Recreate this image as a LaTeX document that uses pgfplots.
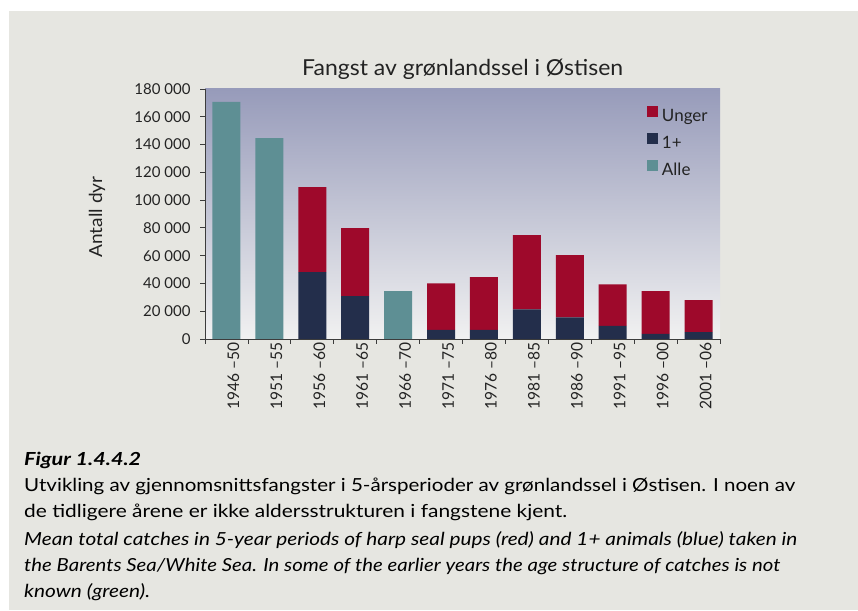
\documentclass[border=0pt]{standalone}
\usepackage{pgfplots}
\pgfplotsset{compat=1.18}
\usepackage{fontspec}
\setmainfont{Lato}
\usepackage{graphicx}
\definecolor{panel}{RGB}{230,230,225}
\definecolor{txt}{RGB}{35,35,35}
\definecolor{ungerred}{RGB}{158,9,43}
\definecolor{plusnavy}{RGB}{35,46,75}
\definecolor{alleteal}{RGB}{94,143,148}
\definecolor{bgtop}{RGB}{151,155,186}
\definecolor{bgbot}{RGB}{241,241,241}
\definecolor{axisgray}{RGB}{60,60,60}
\newcommand\fitw[2]{\resizebox{#1}{\height}{#2}}
\newcommand\xl[1]{\fitw{67pt}{\fontsize{16}{16}\selectfont #1}}
\begin{document}
\begin{tikzpicture}[x=1pt,y=1pt]
\fill[white] (0,0) rectangle (858,610);
\fill[panel] (9,0) rectangle (858,599);
\begin{axis}[
  at={(205pt,271pt)}, anchor=south west,
  scale only axis, width=515pt, height=250pt,
  ybar stacked, bar width=28pt,
  xmin=-0.5, xmax=11.5, ymin=0, ymax=180000,
  scaled x ticks=false, scaled y ticks=false,
  axis x line*=bottom, axis y line*=left,
  axis line style={draw=axisgray, line width=0.8pt},
  axis background/.style={top color=bgtop, bottom color=bgbot},
  tick align=outside, major tick length=5pt,
  tick style={draw=axisgray, line width=0.8pt},
  xtick={-0.5,0.5,...,11.5}, xticklabels={,,,,,,,,,,,,,},
  extra x ticks={0,1,2,3,4,5,6,7,8,9,10,11},
  extra x tick labels={\xl{1946 –50},\xl{1951 –55},\xl{1956 –60},\xl{1961 –65},\xl{1966 –70},\xl{1971 –75},\xl{1976 –80},\xl{1981 –85},\xl{1986 –90},\xl{1991 –95},\xl{1996 –00},\xl{2001 –06}},
  extra x tick style={major tick length=0pt, xticklabel style={rotate=90, anchor=east, yshift=-7pt}},
  ytick={0,20000,40000,60000,80000,100000,120000,140000,160000,180000},
  yticklabels={0,20 000,40 000,60 000,80 000,100 000,120 000,140 000,160 000,180 000},
  ticklabel style={font=\fontsize{15}{15}\selectfont, text=txt},
  yticklabel style={xshift=-6pt},
  reverse legend,
  legend image code/.code={\draw[#1,draw=none] (0pt,-1pt) rectangle (11pt,10pt);},
  legend style={draw=none, fill=none, at={(rel axis cs:0.852,0.94)}, anchor=north west,
    font=\fontsize{17}{17}\selectfont, text=txt, row sep=10pt, column sep=4pt,
    nodes={inner sep=0pt}},
  legend cell align=left,
]
\addplot[fill=alleteal, draw=none] coordinates {(0,170700) (1,144700) (2,0) (3,0) (4,34400) (5,0) (6,0) (7,0) (8,0) (9,0) (10,0) (11,0)};
\addplot[fill=plusnavy, draw=none] coordinates {(0,0) (1,0) (2,48100) (3,30800) (4,0) (5,6500) (6,6500) (7,21400) (8,15600) (9,9400) (10,3600) (11,5000)};
\addplot[fill=ungerred, draw=none] coordinates {(0,0) (1,0) (2,61300) (3,49000) (4,0) (5,33600) (6,38000) (7,53400) (8,44700) (9,30000) (10,30800) (11,22900)};
\legend{Alle,1+,Unger}
\end{axis}
\node[rotate=90, text=txt, inner sep=0pt] at (97,393) {\fitw{81pt}{\fontsize{18}{18}\selectfont Antall dyr}};
\node[anchor=base west, text=txt, inner sep=0pt] at (302,534) {\fitw{321pt}{\fontsize{22}{22}\selectfont Fangst av grønlandssel i Østisen}};
\node[anchor=base west, text=black, inner sep=0pt] at (24,144) {\fitw{117pt}{\fontsize{18}{18}\selectfont\bfseries\itshape Figur 1.4.4.2}};
\node[anchor=base west, text=black, inner sep=0pt] at (24,118) {\fitw{771pt}{\fontsize{18}{18}\selectfont Utvikling av gjennomsnittsfangster i 5-årsperioder av grønlandssel i Østisen. I noen av}};
\node[anchor=base west, text=black, inner sep=0pt] at (24,93) {\fitw{543pt}{\fontsize{18}{18}\selectfont de tidligere årene er ikke aldersstrukturen i fangstene kjent.}};
\node[anchor=base west, text=black, inner sep=0pt] at (24,65) {\fitw{773pt}{\fontsize{18}{18}\selectfont\itshape Mean total catches in 5-year periods of harp seal pups (red) and 1+ animals (blue) taken in}};
\node[anchor=base west, text=black, inner sep=0pt] at (24,39) {\fitw{756pt}{\fontsize{18}{18}\selectfont\itshape the Barents Sea/White Sea. In some of the earlier years the age structure of catches is not}};
\node[anchor=base west, text=black, inner sep=0pt] at (24,13) {\fitw{126pt}{\fontsize{18}{18}\selectfont\itshape known (green).}};
\pgfresetboundingbox
\useasboundingbox (0,0) rectangle (858,610);
\end{tikzpicture}
\end{document}
